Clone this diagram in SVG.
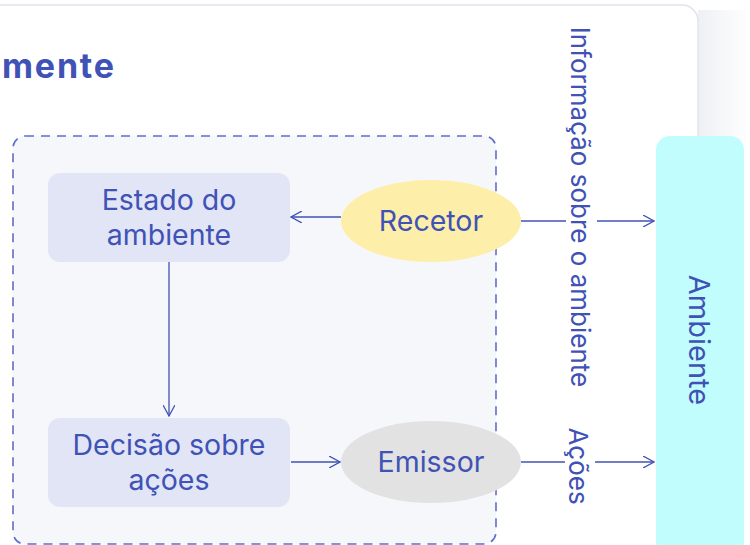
<svg xmlns="http://www.w3.org/2000/svg" width="750" height="545" viewBox="0 0 750 545">
<defs>
<linearGradient id="shadow" x1="0" y1="0" x2="1" y2="0">
<stop offset="0" stop-color="#eef0f4"/>
<stop offset="1" stop-color="#ffffff"/>
</linearGradient>
<marker id="arr" viewBox="0 0 12 12" refX="11" refY="6" markerWidth="12" markerHeight="12" markerUnits="userSpaceOnUse" orient="auto">
<path d="M0,0 L11,6 L0,12" fill="none" stroke="#4052b5" stroke-width="1.3"/>
</marker>
<style>
text{font-family:Inter,"Liberation Sans",sans-serif;fill:#4052b5}
.lbl{font-size:28.5px;text-anchor:middle}
.side{font-size:26px;text-anchor:middle}
.conn{stroke:#4052b5;stroke-width:1.3;fill:none}
.box{fill:#e1e5f5}
</style>
</defs>
<rect x="0" y="0" width="750" height="545" fill="#ffffff"/>
<rect x="698" y="10" width="52" height="535" fill="url(#shadow)"/>
<g id="card">
<rect x="-30" y="5" width="728" height="600" rx="16" fill="#ffffff" stroke="#dfe3ec" stroke-width="1.5"/>
<text x="2" y="78" font-size="34" font-weight="bold" letter-spacing="1.8">mente</text>
</g>
<g id="agent">
<rect x="13" y="136" width="483" height="408" rx="12" fill="#f6f7fa" stroke="#5f6fca" stroke-width="1.6" stroke-dasharray="9,7"/>
</g>
<g id="estado">
<rect class="box" x="48" y="173" width="242" height="89" rx="12"/>
<text class="lbl" x="169" y="210">Estado do</text>
<text class="lbl" x="169" y="245">ambiente</text>
</g>
<g id="decisao">
<rect class="box" x="48" y="418" width="242" height="89" rx="12"/>
<text class="lbl" x="169" y="455">Decisão sobre</text>
<text class="lbl" x="169" y="490">ações</text>
</g>
<g id="recetor">
<ellipse cx="431" cy="221" rx="90" ry="41" fill="#fdeeaa"/>
<text class="lbl" x="431" y="231">Recetor</text>
</g>
<g id="emissor">
<ellipse cx="431" cy="462" rx="90" ry="41" fill="#e2e2e2"/>
<text class="lbl" x="431" y="472">Emissor</text>
</g>
<g id="ambiente">
<rect x="656" y="136" width="88" height="420" rx="14" fill="#c2fdfe"/>
<text transform="translate(689,340) rotate(90)" font-size="29" text-anchor="middle">Ambiente</text>
</g>
<g id="connectors">
<line class="conn" x1="341" y1="217" x2="291" y2="217" marker-end="url(#arr)"/>
<line class="conn" x1="169" y1="262" x2="169" y2="416" marker-end="url(#arr)"/>
<line class="conn" x1="291" y1="462" x2="340" y2="462" marker-end="url(#arr)"/>
<line class="conn" x1="521" y1="221" x2="566" y2="221"/>
<line class="conn" x1="597" y1="221" x2="654" y2="221" marker-end="url(#arr)"/>
<line class="conn" x1="521" y1="462" x2="565" y2="462"/>
<line class="conn" x1="595" y1="462" x2="654" y2="462" marker-end="url(#arr)"/>
<text class="side" transform="translate(571,207) rotate(90)">Informação sobre o ambiente</text>
<text class="side" transform="translate(569,466) rotate(90)">Ações</text>
</g>
</svg>
